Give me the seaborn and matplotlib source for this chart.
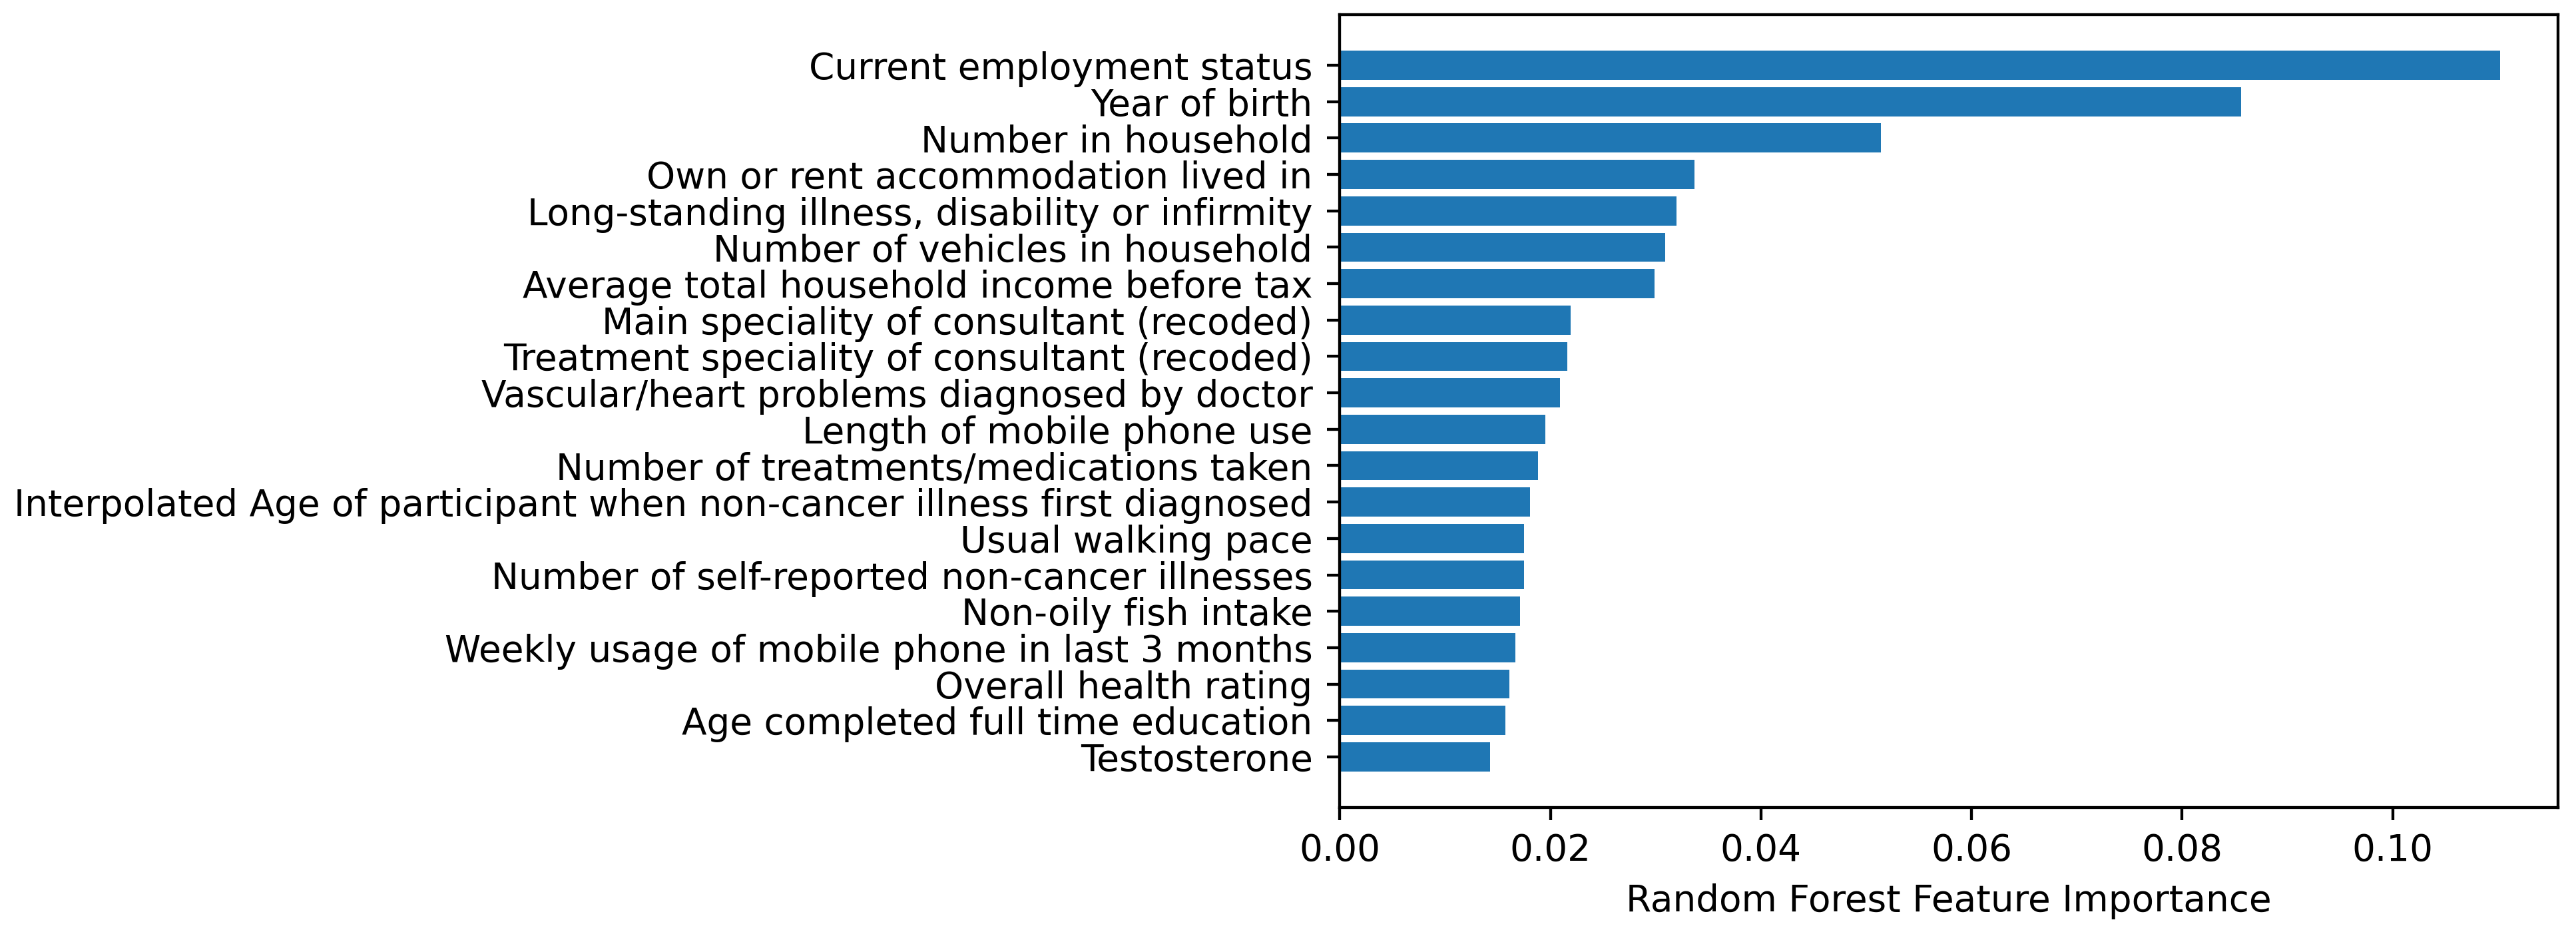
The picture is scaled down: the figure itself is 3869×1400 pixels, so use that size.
import matplotlib
matplotlib.use('Agg')
import matplotlib.pyplot as plt
import seaborn as sns
import pandas as pd

features = [
    "Current employment status",
    "Year of birth",
    "Number in household",
    "Own or rent accommodation lived in",
    "Long-standing illness, disability or infirmity",
    "Number of vehicles in household",
    "Average total household income before tax",
    "Main speciality of consultant (recoded)",
    "Treatment speciality of consultant (recoded)",
    "Vascular/heart problems diagnosed by doctor",
    "Length of mobile phone use",
    "Number of treatments/medications taken",
    "Interpolated Age of participant when non-cancer illness first diagnosed",
    "Usual walking pace",
    "Number of self-reported non-cancer illnesses",
    "Non-oily fish intake",
    "Weekly usage of mobile phone in last 3 months",
    "Overall health rating",
    "Age completed full time education",
    "Testosterone",
]
importance = [
    0.1102, 0.0856, 0.0514, 0.0337, 0.0320, 0.0309, 0.0299, 0.0219, 0.0216, 0.0209,
    0.0195, 0.0188, 0.0181, 0.0175, 0.0175, 0.0171, 0.0167, 0.0161, 0.0157, 0.0143,
]
xlabel = "Random Forest Feature Importance"

S = 3.9
sns.set_style("ticks")
plt.rcParams.update({
    'font.family': ['DejaVu Sans'],
    'font.size': 39.5,
    'axes.linewidth': 0.8 * S,
    'axes.edgecolor': 'black',
    'axes.labelcolor': 'black',
    'xtick.color': 'black', 'ytick.color': 'black',
    'xtick.major.size': 3.5 * S, 'ytick.major.size': 3.5 * S,
    'xtick.major.width': 0.8 * S, 'ytick.major.width': 0.8 * S,
    'xtick.major.pad': 3.5 * S, 'ytick.major.pad': 3.5 * S + 2,
    'axes.labelpad': 4 * S,
})

fig = plt.figure(figsize=(38.69, 14), dpi=100)
ax = fig.add_axes([0.5201, 0.1336, 0.4729, 0.8507])
df = pd.DataFrame({'feature': features, 'importance': importance})
sns.barplot(data=df, x='importance', y='feature', color='#1f77b4',
            saturation=1, width=0.8, ax=ax, linewidth=0)
for sp in ax.spines.values():
    sp.set_visible(True)
ax.set_xlim(0, max(importance) * 1.05)
ax.set_ylim(len(features) - 1 + 1.39, -1.39)
ax.set_xticks([0.0, 0.02, 0.04, 0.06, 0.08, 0.10])
ax.set_xticklabels(["0.00", "0.02", "0.04", "0.06", "0.08", "0.10"])
ax.set_xlabel(xlabel)
ax.set_ylabel('')
fig.savefig('out.png', dpi=100, facecolor='white')
